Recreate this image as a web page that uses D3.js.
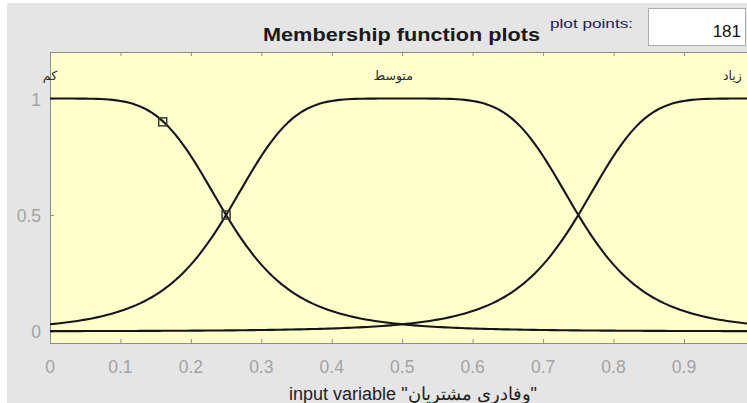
<!DOCTYPE html>
<html>
<head>
<meta charset="utf-8">
<script src="https://cdn.jsdelivr.net/npm/d3@7/dist/d3.min.js"></script>
<style>
  html, body { margin: 0; padding: 0; background: #ffffff; }
  svg { display: block; }
</style>
</head>
<body>
<svg id="chart" width="747" height="403"></svg>
<script>
// Membership functions of the input variable (generalized bell: a = width, b = slope, c = center)
const mfNames   = ["کم", "متوسط", "زیاد"];
const mfCenters = [0, 0.5, 1];
const mfWidths  = [0.25, 0.25, 0.25];
const mfSlopes  = [2.5, 2.5, 2.5];

// Handles shown on the selected function (کم)
const handleX = [0.16, 0.25];
const handleY = [0.90, 0.50];

const xTicks = [0, 0.1, 0.2, 0.3, 0.4, 0.5, 0.6, 0.7, 0.8, 0.9];
const xTickLabels = ["0", "0.1", "0.2", "0.3", "0.4", "0.5", "0.6", "0.7", "0.8", "0.9"];
const yTicks = [0, 0.5, 1];
const yTickLabels = ["0", "0.5", "1"];

const plotPoints = 181;
const inputRange = [0, 1];
const variableName = "وفادری مشتریان";

(function draw() {
  const svg = d3.select("#chart");

  // panel background
  svg.append("rect").attr("x", 7).attr("y", 3).attr("width", 740).attr("height", 400)
    .attr("fill", "#e5e5e5");

  const pLeft = 50, pTop = 52, pBottom = 343, pRight = 760;
  const x = d3.scaleLinear().domain([0, 1]).range([pLeft, 754.4]);
  const y = d3.scaleLinear().domain([-0.05, 1.2]).range([pBottom, pTop]);

  // plot area
  svg.append("rect").attr("x", pLeft).attr("y", pTop)
    .attr("width", pRight - pLeft).attr("height", pBottom - pTop)
    .attr("fill", "#ffffcc");

  svg.append("clipPath").attr("id", "plotclip")
    .append("rect").attr("x", pLeft).attr("y", pTop)
    .attr("width", pRight - pLeft).attr("height", pBottom - pTop);

  // axes (inward ticks, gray)
  const axisColor = "#8c8c8c";
  const gBottom = svg.append("g").attr("transform", `translate(0,${pBottom})`)
    .call(d3.axisBottom(x).tickValues(xTicks).tickSize(-4).tickFormat(""));
  const gTop = svg.append("g").attr("transform", `translate(0,${pTop})`)
    .call(d3.axisTop(x).tickValues(xTicks).tickSize(-4).tickFormat(""));
  const gLeft = svg.append("g").attr("transform", `translate(${pLeft},0)`)
    .call(d3.axisLeft(y).tickValues(yTicks).tickSize(-4).tickFormat(""));
  [gBottom, gTop, gLeft].forEach(g => {
    g.selectAll("path.domain").remove();
    g.selectAll(".tick line").attr("stroke", axisColor);
  });
  svg.append("line").attr("x1", pLeft).attr("x2", 747).attr("y1", pBottom + 0.5).attr("y2", pBottom + 0.5).attr("stroke", axisColor);
  svg.append("line").attr("x1", pLeft).attr("x2", 747).attr("y1", pTop + 0.5).attr("y2", pTop + 0.5).attr("stroke", axisColor);
  svg.append("line").attr("x1", pLeft + 0.5).attr("x2", pLeft + 0.5).attr("y1", pTop).attr("y2", pBottom + 1).attr("stroke", axisColor);

  // tick labels
  const tickFont = "'Liberation Sans', Arial, sans-serif";
  svg.append("g").selectAll("text").data(xTicks).join("text")
    .attr("x", d => x(d)).attr("y", 373)
    .attr("text-anchor", "middle")
    .attr("font-family", tickFont).attr("font-size", 17.5).attr("fill", "#a3a3a3")
    .text((d, i) => xTickLabels[i]);
  svg.append("g").selectAll("text").data(yTicks).join("text")
    .attr("x", 41).attr("y", d => y(d) + 7)
    .attr("text-anchor", "end")
    .attr("font-family", tickFont).attr("font-size", 17.5).attr("fill", "#a3a3a3")
    .text((d, i) => yTickLabels[i]);

  // membership curves sampled at the plot point count
  const xs = d3.range(plotPoints).map(i => inputRange[0] + (inputRange[1] - inputRange[0]) * i / (plotPoints - 1));
  const gbell = (v, a, b, c) => 1 / (1 + Math.pow(Math.abs((v - c) / a), 2 * b));
  const line = d3.line().x(d => x(d[0])).y(d => y(d[1]));

  const curves = svg.append("g").attr("clip-path", "url(#plotclip)");
  mfNames.forEach((name, i) => {
    const pts = xs.map(v => [v, gbell(v, mfWidths[i], mfSlopes[i], mfCenters[i])]);
    curves.append("path").attr("d", line(pts))
      .attr("fill", "none").attr("stroke", "#161616").attr("stroke-width", 2.1);
  });

  // handles
  curves.selectAll("rect.handle").data(handleX).join("rect")
    .attr("class", "handle")
    .attr("x", d => x(d) - 4).attr("y", (d, i) => y(handleY[i]) - 4)
    .attr("width", 8).attr("height", 8)
    .attr("fill", "none").attr("stroke", "#3a3a3a").attr("stroke-width", 1.5);

  // function names
  const nameOffsets = [0, -9, -22];
  svg.append("g").selectAll("text").data(mfNames).join("text")
    .attr("x", (d, i) => x(mfCenters[i]) + nameOffsets[i]).attr("y", 80)
    .attr("text-anchor", "middle")
    .attr("font-family", "'DejaVu Sans', 'Noto Sans', sans-serif").attr("font-size", 12.5).attr("fill", "#2a2a2a")
    .text(d => d);

  // title
  svg.append("text").attr("x", 401.5).attr("y", 41)
    .attr("text-anchor", "middle")
    .attr("font-family", tickFont).attr("font-weight", "bold").attr("font-size", 18)
    .attr("textLength", 277).attr("lengthAdjust", "spacingAndGlyphs")
    .attr("fill", "#1a1a1a")
    .text("Membership function plots");

  // plot points control
  svg.append("text").attr("x", 550).attr("y", 28)
    .attr("font-family", tickFont).attr("font-size", 13)
    .attr("textLength", 83).attr("lengthAdjust", "spacingAndGlyphs")
    .attr("fill", "#1c1c50")
    .text("plot points:");
  svg.append("rect").attr("x", 648.5).attr("y", 8.5).attr("width", 97).attr("height", 37)
    .attr("fill", "#ffffff").attr("stroke", "#adadad");
  svg.append("text").attr("x", 741).attr("y", 37)
    .attr("text-anchor", "end")
    .attr("font-family", tickFont).attr("font-size", 17).attr("fill", "#111111")
    .text(String(plotPoints));

  // axis title
  svg.append("text").attr("x", 413).attr("y", 400)
    .attr("text-anchor", "middle")
    .attr("font-family", tickFont).attr("font-size", 18).attr("fill", "#222222")
    .text(`input variable "${variableName}"`);
})();
</script>
</body>
</html>
